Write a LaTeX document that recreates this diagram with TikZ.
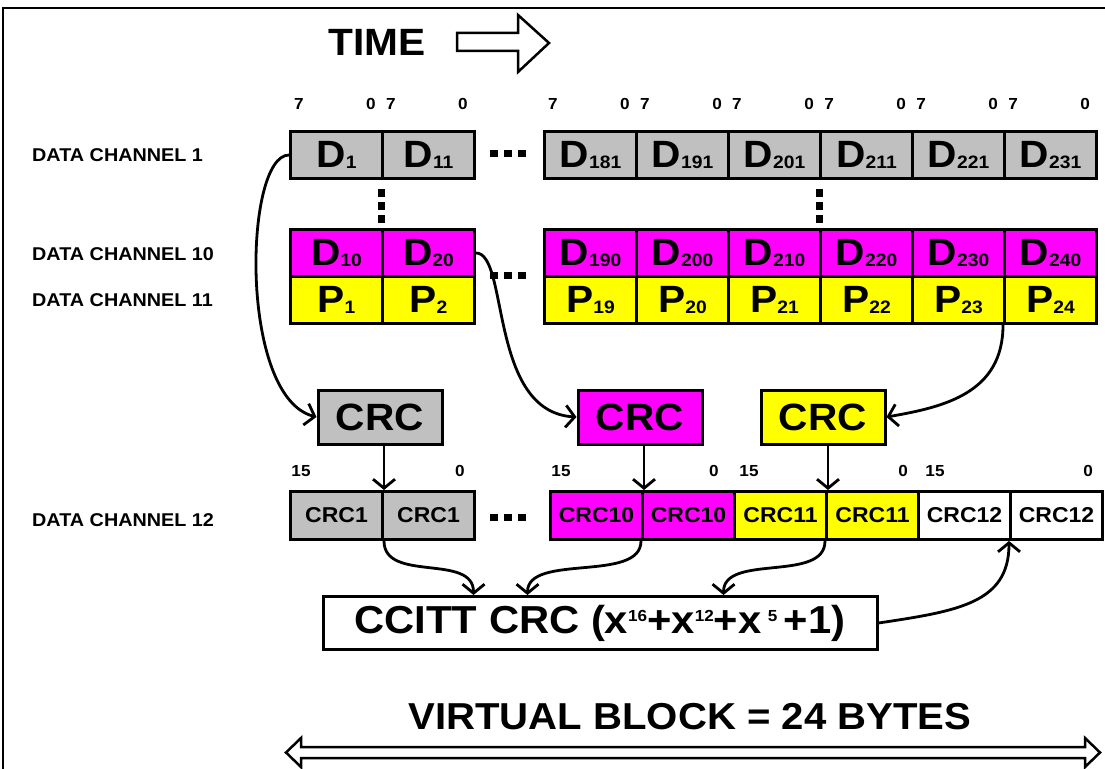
\documentclass[tikz,border=0pt]{standalone}
\usepackage{fontspec}
\setmainfont{Liberation Sans}[FakeStretch=1.07]
\usetikzlibrary{arrows.meta}
\definecolor{cellgrey}{HTML}{C0C0C0}
\definecolor{cellmag}{HTML}{FF00FF}
\definecolor{cellyel}{HTML}{FFFF00}
\newcommand{\fs}[1]{\fontsize{#1}{#1}\selectfont}
% big letter with a small index sitting on its baseline
\newcommand{\idx}[2]{{\fs{38}#1}{\fs{18}\raisebox{-1.5pt}{#2}}}
\newcommand{\pw}[1]{\raisebox{12pt}{\fs{16}#1}}
\tikzset{
  cell/.style={draw, line width=3pt, minimum width=92pt, minimum height=47pt,
    inner sep=0pt, anchor=north west, font=\bfseries},
  crccell/.style={cell, minimum height=48pt, font=\bfseries\fs{21.5}},
  bitlbl/.style={font=\bfseries\fs{16}, inner sep=0pt},
  chan/.style={font=\bfseries\fs{18.5}, anchor=west, inner sep=0pt},
  crcbox/.style={draw, line width=3pt, minimum width=124pt, minimum height=54pt,
    inner sep=0pt, font=\bfseries\fs{38}},
  link/.style={line width=2.8pt},
  tip/.style={-{Straight Barb[length=9pt,width=22pt]}},
  sq/.style={fill=black, minimum width=8pt, minimum height=7pt, inner sep=0pt},
}
\begin{document}
\begin{tikzpicture}[x=1pt,y=-1pt]
\useasboundingbox (0,0) rectangle (1105,768);
% frame
\draw[line width=2.2pt] (3,770) -- (3,8) -- (1107,8);

% time heading
\node[font=\bfseries\fs{38}, inner sep=0pt] (time) at (377,42) {TIME};
\draw[line width=2.5pt, line join=miter]
  (457,33) -- (518,33) -- (518,15) -- (549,43) -- (518,72) -- (518,51) -- (457,51) -- cycle;

% channel labels
\node[chan] (ch1)  at (32,155) {DATA CHANNEL 1};
\node[chan] (ch10) at (32,254) {DATA CHANNEL 10};
\node[chan] (ch11) at (32,300) {DATA CHANNEL 11};
\node[chan] (ch12) at (32,520) {DATA CHANNEL 12};

% data channel 1
\node[cell, fill=cellgrey] (d1)   at (289,130) {\idx{D}{1}};
\node[cell, fill=cellgrey] (d11)  at (381,130) {\idx{D}{11}};
\node[cell, fill=cellgrey] (d181) at (543,130) {\idx{D}{181}};
\node[cell, fill=cellgrey] (d191) at (635,130) {\idx{D}{191}};
\node[cell, fill=cellgrey] (d201) at (727,130) {\idx{D}{201}};
\node[cell, fill=cellgrey] (d211) at (819,130) {\idx{D}{211}};
\node[cell, fill=cellgrey] (d221) at (911,130) {\idx{D}{221}};
\node[cell, fill=cellgrey] (d231) at (1003,130) {\idx{D}{231}};

% data channel 10
\node[cell, fill=cellmag] (d10)  at (289,228) {\idx{D}{10}};
\node[cell, fill=cellmag] (d20)  at (381,228) {\idx{D}{20}};
\node[cell, fill=cellmag] (d190) at (543,228) {\idx{D}{190}};
\node[cell, fill=cellmag] (d200) at (635,228) {\idx{D}{200}};
\node[cell, fill=cellmag] (d210) at (727,228) {\idx{D}{210}};
\node[cell, fill=cellmag] (d220) at (819,228) {\idx{D}{220}};
\node[cell, fill=cellmag] (d230) at (911,228) {\idx{D}{230}};
\node[cell, fill=cellmag] (d240) at (1003,228) {\idx{D}{240}};

% data channel 11
\node[cell, fill=cellyel] (p1)  at (289,275) {\idx{P}{1}};
\node[cell, fill=cellyel] (p2)  at (381,275) {\idx{P}{2}};
\node[cell, fill=cellyel] (p19) at (543,275) {\idx{P}{19}};
\node[cell, fill=cellyel] (p20) at (635,275) {\idx{P}{20}};
\node[cell, fill=cellyel] (p21) at (727,275) {\idx{P}{21}};
\node[cell, fill=cellyel] (p22) at (819,275) {\idx{P}{22}};
\node[cell, fill=cellyel] (p23) at (911,275) {\idx{P}{23}};
\node[cell, fill=cellyel] (p24) at (1003,275) {\idx{P}{24}};

% byte bit numbers
\foreach \x [count=\i] in {289,381,543,635,727,819,911,1003} {
  \node[bitlbl] (hi\i) at (\x+10,104) {7};
  \node[bitlbl] (lo\i) at (\x+82,104) {0};
}

% continuation dots
\foreach \x [count=\i] in {494,508,522} {
  \node[sq] (ha\i) at (\x,153) {};
  \node[sq] (hb\i) at (\x,275) {};
  \node[sq] (hc\i) at (\x,517) {};
}
\foreach \y [count=\i] in {193,206,219} {
  \node[sq, minimum width=7pt, minimum height=8pt] (va\i) at (381,\y) {};
  \node[sq, minimum width=7pt, minimum height=8pt] (vb\i) at (819,\y) {};
}

% CRC generators
\node[crcbox, fill=cellgrey] (crcA) at (380,417) {CRC};
\node[crcbox, fill=cellmag]  (crcB) at (640,417) {CRC};
\node[crcbox, fill=cellyel]  (crcC) at (823,417) {CRC};

% data channel 12
\node[crccell, fill=cellgrey] (a1) at (289,490) {CRC1};
\node[crccell, fill=cellgrey] (a2) at (381,490) {CRC1};
\node[crccell, fill=cellmag]  (b1) at (549,490) {CRC10};
\node[crccell, fill=cellmag]  (b2) at (641,490) {CRC10};
\node[crccell, fill=cellyel]  (c1) at (733,490) {CRC11};
\node[crccell, fill=cellyel]  (c2) at (825,490) {CRC11};
\node[crccell, fill=white]    (w1) at (917,490) {CRC12};
\node[crccell, fill=white]    (w2) at (1009,490) {CRC12};

% word bit numbers
\node[bitlbl] (ah) at (301,471) {15};
\node[bitlbl] (al) at (460,471) {0};
\node[bitlbl] (bh) at (561,471) {15};
\node[bitlbl] (bl) at (714,471) {0};
\node[bitlbl] (ch) at (749,471) {15};
\node[bitlbl] (cl) at (903,471) {0};
\node[bitlbl] (wh) at (935,471) {15};
\node[bitlbl] (wl) at (1088,471) {0};

% CCITT generator
\node[draw, line width=3pt, minimum width=554pt, minimum height=53pt, inner sep=0pt,
  font=\bfseries\fs{39}] (ccitt) at (600,623)
  {CCITT CRC (x\pw{16}+x\pw{12}+x\,\pw{5}\,+1)};
\coordinate (in1) at ([xshift=152pt]ccitt.north west);
\coordinate (in2) at ([xshift=206pt]ccitt.north west);
\coordinate (in3) at ([xshift=402pt]ccitt.north west);

% channel data into the CRC generators
\draw[link, tip] (d1.west) .. controls +(-45,0) and +(-78,-20) .. (crcA.west);
\draw[link, tip] (d20.east) .. controls +(33,0) and +(-88,-5) .. (crcB.west);
\draw[link, tip] (p24.south west) .. controls +(0,68) and +(58,-10) .. (crcC.east);

% CRC results into channel 12
\draw[link, tip] (a1.north east |- crcA.south) -- (a1.north east);
\draw[link, tip] (b1.north east |- crcB.south) -- (b1.north east);
\draw[link, tip] (c1.north east |- crcC.south) -- (c1.north east);

% channel 12 words into the CCITT generator and back
\draw[link, tip] (a1.south east) .. controls +(0,42) and +(0,-42) .. (in1);
\draw[link, tip] (b2.south west) .. controls +(0,42) and +(0,-42) .. (in2);
\draw[link, tip] (c2.south west) .. controls +(0,42) and +(0,-42) .. (in3);
\draw[link, tip] (ccitt.east) .. controls +(80,-12) and +(0,62) .. (w2.south west);

% block length
\node[font=\bfseries\fs{37.5}, inner sep=0pt] (vb) at (690,717) {VIRTUAL BLOCK = 24 BYTES};
\draw[line width=2.5pt, line join=miter]
  (286,752.5) -- (301,738) -- (301,747) -- (1085,747) -- (1085,738) -- (1100,752.5)
  -- (1085,767) -- (1085,758) -- (301,758) -- (301,767) -- cycle;
\end{tikzpicture}
\end{document}
